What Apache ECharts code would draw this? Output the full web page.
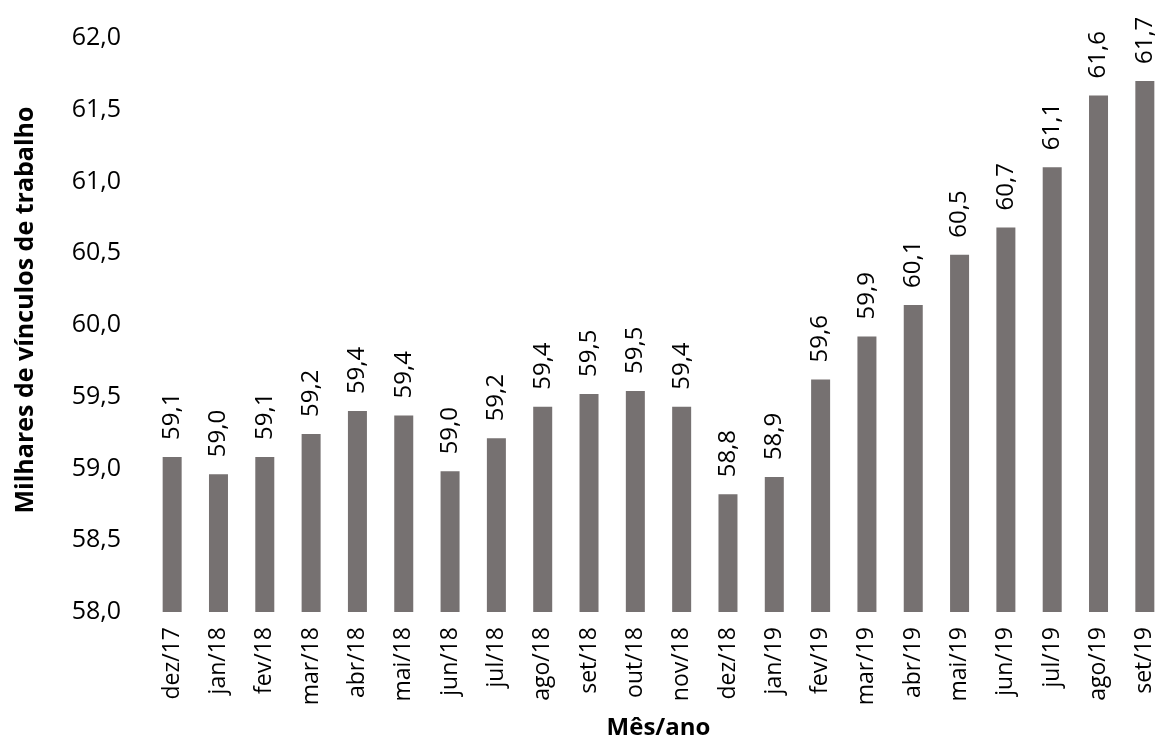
<!DOCTYPE html>
<html>
<head>
<meta charset="utf-8">
<script src="https://cdn.jsdelivr.net/npm/echarts@6/dist/echarts.min.js"></script>
<style>
  html, body { margin: 0; padding: 0; background: #fff; }
  #chart { width: 1168px; height: 745px; }
</style>
</head>
<body>
<div id="chart"></div>
<script>
// Monthly series: employment links (thousands), Dec/2017 – Sep/2019
const months = [
  'dez/17', 'jan/18', 'fev/18', 'mar/18', 'abr/18', 'mai/18', 'jun/18', 'jul/18',
  'ago/18', 'set/18', 'out/18', 'nov/18', 'dez/18', 'jan/19', 'fev/19', 'mar/19',
  'abr/19', 'mai/19', 'jun/19', 'jul/19', 'ago/19', 'set/19'
];
const vinculos = [
  59.08, 58.96, 59.08, 59.24, 59.40, 59.37, 58.98, 59.21,
  59.43, 59.52, 59.54, 59.43, 58.82, 58.94, 59.62, 59.92,
  60.14, 60.49, 60.68, 61.10, 61.60, 61.70
];
const yMin = 58.0;
const yMax = 62.0;
const yStep = 0.5;

const FONT = '"Open Sans", "Noto Sans", sans-serif';
const fmt = v => v.toFixed(1).replace('.', ',');

const chart = echarts.init(document.getElementById('chart'));
chart.setOption({
  animation: false,
  backgroundColor: '#ffffff',
  grid: { left: 149, top: 38, width: 1028, bottom: 129, containLabel: false },
  xAxis: {
    type: 'category',
    data: months,
    axisLine: { show: false },
    axisTick: { show: false },
    axisLabel: {
      rotate: 90,
      interval: 0,
      margin: 15,
      color: '#000',
      fontFamily: FONT,
      fontSize: 23
    },
    name: 'Mês/ano',
    nameLocation: 'middle',
    nameGap: 104,
    nameTextStyle: { color: '#000', fontFamily: FONT, fontSize: 24, fontWeight: 'bold' }
  },
  yAxis: {
    type: 'value',
    min: yMin,
    max: yMax,
    interval: yStep,
    splitLine: { show: false },
    axisLine: { show: false },
    axisTick: { show: false },
    axisLabel: {
      margin: 28,
      color: '#000',
      fontFamily: FONT,
      fontSize: 25,
      formatter: v => fmt(v)
    },
    name: 'Milhares de vínculos de trabalho',
    nameLocation: 'middle',
    nameGap: 111,
    nameRotate: 90,
    nameTextStyle: {
      color: '#000', fontFamily: FONT, fontSize: 25, fontWeight: 'bold',
      padding: [0, 0, 0, 30]
    }
  },
  series: [{
    type: 'bar',
    data: vinculos,
    barWidth: 19,
    itemStyle: { color: '#767171' },
    label: {
      show: true,
      position: 'top',
      rotate: 90,
      align: 'left',
      verticalAlign: 'middle',
      distance: 17,
      color: '#000',
      fontFamily: FONT,
      fontSize: 24,
      formatter: p => fmt(p.value)
    }
  }]
});
</script>
</body>
</html>
